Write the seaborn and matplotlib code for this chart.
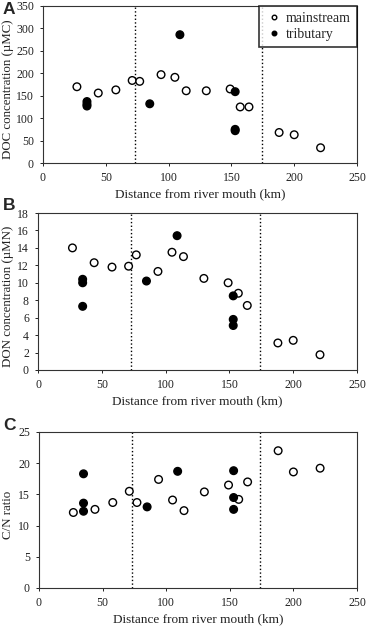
import numpy as np
import pandas as pd
import matplotlib
matplotlib.use('Agg')
import matplotlib.pyplot as plt
import seaborn as sns

# mainstream stations
main_km = [27, 44, 58, 71, 77, 94, 105, 114, 130, 149, 157, 164, 188, 200, 221]
main_doc = [170, 156, 163, 184, 182, 197, 191, 161, 161, 165, 125, 125, 68, 63, 34]
main_don = [14.0, 12.3, 11.8, 11.9, 13.2, 11.3, 13.5, 13.0, 10.5, 10.0, 8.8, 7.4, 3.1, 3.4, 1.75]
main_cn = [12.1, 12.6, 13.7, 15.5, 13.7, 17.4, 14.1, 12.4, 15.4, 16.5, 14.2, 17.0, 22.0, 18.6, 19.2]

# tributary stations
trib_km = [35, 35, 35, 85, 109, 153, 153, 153]
trib_doc = [137, 131, 127, 132, 286, 159, 75, 72]
trib_don = [7.3, 10.0, 10.4, 10.2, 15.4, 8.5, 5.1, 5.8]
trib_cn = [18.3, 13.6, 12.3, 13.0, 18.7, 18.8, 14.5, 12.6]

zone_bounds = [73, 174]

df = pd.concat([
    pd.DataFrame({'km': main_km, 'doc': main_doc, 'don': main_don, 'cn': main_cn, 'type': 'mainstream'}),
    pd.DataFrame({'km': trib_km, 'doc': trib_doc, 'don': trib_don, 'cn': trib_cn, 'type': 'tributary'}),
])

sns.set_style('ticks')
plt.rcParams['font.family'] = ['Liberation Serif', 'DejaVu Serif']

fig = plt.figure(figsize=(3.7, 6.29), dpi=100)
W, H = 370, 629
# letter, column, label, ylim, step, left, top, bottom, letter y (px)
panels = [
    ('A', 'doc', 'DOC concentration (\u00b5MC)', (0, 350), 50, 43, 6, 163, 10),
    ('B', 'don', 'DON concentration (\u00b5MN)', (0, 18), 2, 38, 213, 370, 206),
    ('C', 'cn', 'C/N ratio', (0, 25), 5, 39, 432, 588, 425),
]
palette = {'mainstream': 'white', 'tributary': 'black'}

for letter, col, ylabel, ylim, ystep, left, top, bottom, ly in panels:
    ax = fig.add_axes([left / W, 1 - bottom / H, (357 - left) / W, (bottom - top) / H])
    sns.scatterplot(data=df, x='km', y=col, hue='type', palette=palette,
                    edgecolor='black', linewidth=1.0, s=30, ax=ax,
                    legend=(letter == 'A'), zorder=3)
    for xb in zone_bounds:
        ax.axvline(xb, color='black', linestyle=':', linewidth=1.0, zorder=1)
    ax.set_xlim(0, 250)
    ax.set_ylim(*ylim)
    ax.set_xticks(np.arange(0, 251, 50))
    ax.set_yticks(np.arange(ylim[0], ylim[1] + 0.1, ystep))
    ax.set_xlabel('Distance from river mouth (km)', fontsize=9.5, color='#222222', labelpad=3)
    ax.set_ylabel(ylabel, fontsize=9.3, color='#222222')
    # right edge of the rotated label sits at ~14 px from the figure edge
    ax.yaxis.set_label_coords((14 - left) / (357 - left), 0.47)
    ax.tick_params(labelsize=8.5, length=2.5, width=0.7, pad=4, colors='#222222')
    for sp in ax.spines.values():
        sp.set_linewidth(0.8)
        sp.set_color('#333333')
    fig.text(3 / W, 1 - ly / H, letter, fontsize=12.5, fontweight='bold',
             family='Liberation Sans', ha='left', va='center')
    if letter == 'A':
        leg = ax.legend(loc='upper right', fontsize=10, frameon=True, fancybox=False,
                        handletextpad=0.2, borderpad=0.45, labelspacing=0.2,
                        handlelength=1.3, borderaxespad=0.0, markerscale=0.6)
        leg.get_frame().set_edgecolor('black')
        leg.get_frame().set_linewidth(1.2)
        for h in leg.legend_handles:
            h.set_markeredgecolor('black')

fig.savefig('out.png', dpi=100)
